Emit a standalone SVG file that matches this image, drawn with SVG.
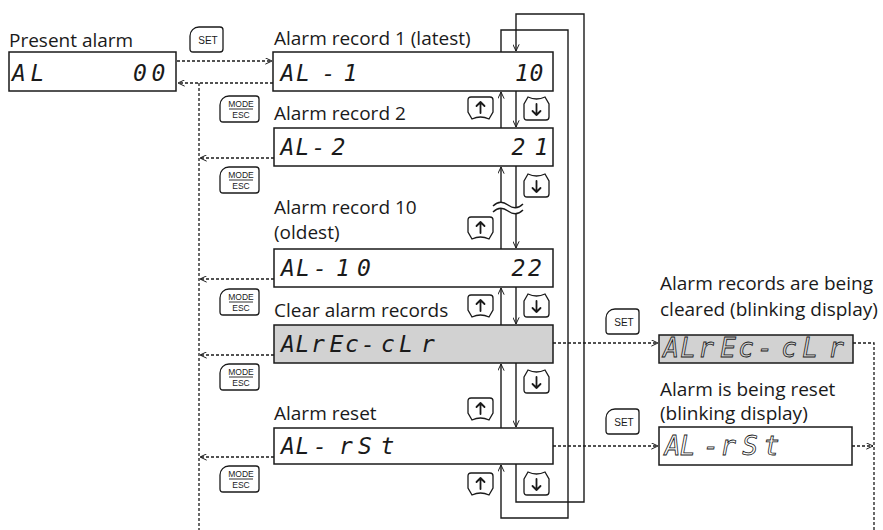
<svg xmlns="http://www.w3.org/2000/svg" xmlns:xlink="http://www.w3.org/1999/xlink" width="883" height="530" viewBox="0 0 883 530">
<style>
.lbl{font-family:"Open Sans","Noto Sans",sans-serif;font-size:19px;fill:#1a1a1a}
.box{fill:#fff;stroke:#1a1a1a;stroke-width:1.5}
.gbox{fill:#d2d2d2;stroke:#1a1a1a;stroke-width:1.5}
.seg{font-family:"DejaVu Sans Mono",monospace;font-style:italic;font-size:23px;fill:#1a1a1a;text-anchor:middle}
.bseg{font-family:"DejaVu Sans Mono",monospace;font-style:italic;font-size:26px;fill:none;stroke:#1a1a1a;stroke-width:0.8;text-anchor:middle}
.solid{fill:none;stroke:#1a1a1a;stroke-width:1.4}
.dash{fill:none;stroke:#1a1a1a;stroke-width:1.3;stroke-dasharray:3 2}
.key{fill:#fff;stroke:#1a1a1a;stroke-width:1.3}
.kt{font-family:"Liberation Sans",Arial,sans-serif;fill:#1a1a1a;text-anchor:middle}
.arr{fill:none;stroke:#1a1a1a;stroke-width:1.8;stroke-linecap:round;stroke-linejoin:round}
</style>
<defs>
<marker id="ah" viewBox="0 0 10 10" refX="9.5" refY="5" markerWidth="7" markerHeight="7" markerUnits="userSpaceOnUse" orient="auto">
<path d="M0,0.5 L9.5,5 L0,9.5" fill="none" stroke="#1a1a1a" stroke-width="1.4"/>
</marker>
<g id="setkey">
<path class="key" d="M0,9 C0,4 4,0 9,0 H30 Q33,0 33,3 V22 Q33,25 30,25 H3 Q0,25 0,22 Z"/>
<text class="kt" x="18" y="17" font-size="10">SET</text>
</g>
<g id="modekey">
<path class="key" d="M0,9 C0,4 4,0 9,0 H36 Q39,0 39,3 V23 Q39,26 36,26 H3 Q0,26 0,23 Z"/>
<text class="kt" x="21" y="11" font-size="8.5">MODE</text>
<line x1="9" y1="13" x2="33" y2="13" stroke="#1a1a1a" stroke-width="0.9"/>
<text class="kt" x="21" y="22" font-size="8.5">ESC</text>
</g>
<g id="upkey">
<path class="key" d="M3,0 H22 Q25,0 25,3 V15 L21,22 Q12.5,18 4,22 L0,15 V3 Q0,0 3,0 Z"/>
<path class="arr" d="M12.5,16 V5 M8.5,9 L12.5,5 L16.5,9"/>
</g>
<g id="downkey">
<path class="key" d="M0,7 L4,0 Q12.5,4 21,0 L25,7 V20 Q25,23 22,23 H3 Q0,23 0,20 Z"/>
<path class="arr" d="M12.5,7 V18 M8.5,14 L12.5,18 L16.5,14"/>
</g>
</defs>
<rect width="883" height="530" fill="#fff"/>

<g id="connectors">
<path class="dash" d="M177,61 H272" marker-end="url(#ah)"/>
<path class="dash" d="M273,83 H178" marker-end="url(#ah)"/>
<path class="dash" d="M199,83 V530"/>
<path class="dash" d="M274,158 H200" marker-end="url(#ah)"/>
<path class="dash" d="M274,279 H200" marker-end="url(#ah)"/>
<path class="dash" d="M274,355 H200" marker-end="url(#ah)"/>
<path class="dash" d="M274,457 H200" marker-end="url(#ah)"/>
<path class="dash" d="M553,343 H658" marker-end="url(#ah)"/>
<path class="dash" d="M553,446 H658" marker-end="url(#ah)"/>
<path class="dash" d="M853,343 H874 V530"/>
<path class="dash" d="M852,446 H873" marker-end="url(#ah)"/>

<path class="solid" d="M501,128 V92" marker-end="url(#ah)"/>
<path class="solid" d="M516,91 V127" marker-end="url(#ah)"/>
<path class="solid" d="M501,249 V167" marker-end="url(#ah)"/>
<path class="solid" d="M516,166 V248" marker-end="url(#ah)"/>
<path class="solid" d="M501,325 V288" marker-end="url(#ah)"/>
<path class="solid" d="M516,287 V324" marker-end="url(#ah)"/>
<path class="solid" d="M501,428 V364" marker-end="url(#ah)"/>
<path class="solid" d="M516,363 V427" marker-end="url(#ah)"/>
<path class="solid" d="M501,52 V30 H568 V518 H501 V465" marker-end="url(#ah)"/>
<path class="solid" d="M516,464 V502 H584 V14 H516 V51" marker-end="url(#ah)"/>
<path d="M493,206 Q500,199 508,205 Q516,211 523,204 L523,210 Q516,217 508,211 Q500,205 493,212 Z" fill="#fff"/>
<path class="solid" d="M493,206 Q500,199 508,205 Q516,211 523,204 M493,212 Q500,205 508,211 Q516,217 523,210"/>
</g>

<g id="present">
<text class="lbl" x="9" y="47">Present alarm</text>
<rect class="box" x="9" y="52" width="167" height="39"/>
<text class="seg" x="19 37.5 140 158.5" y="81">AL00</text>
</g>
<g id="rec1">
<text class="lbl" x="274" y="45">Alarm record 1 (latest)</text>
<rect class="box" x="273" y="52" width="280" height="39"/>
<text class="seg" x="287.5 303 328.5 350.5 522 536.5" y="81">AL-110</text>
</g>
<g id="rec2">
<text class="lbl" x="274" y="120">Alarm record 2</text>
<rect class="box" x="274" y="128" width="279" height="38"/>
<text class="seg" x="287.5 302.5 318.5 338.5 518.5 541.5" y="155">AL-221</text>
</g>
<g id="rec10">
<text class="lbl" x="274" y="214">Alarm record 10</text>
<text class="lbl" x="274" y="239">(oldest)</text>
<rect class="box" x="274" y="249" width="279" height="38"/>
<text class="seg" x="288 303 320 343 364 518.5 535" y="276">AL-1022</text>
</g>
<g id="clear">
<text class="lbl" x="274" y="317">Clear alarm records</text>
<rect class="gbox" x="274" y="325" width="279" height="38"/>
<text class="seg" x="288 302.5 318 336.5 352 368 388 406 428" y="352">ALrEc-cLr</text>
</g>
<g id="reset">
<text class="lbl" x="274" y="420">Alarm reset</text>
<rect class="box" x="274" y="428" width="279" height="36"/>
<text class="seg" x="288 302.5 320 346 365 387.5" y="454">AL-rSt</text>
</g>
<g id="clearing">
<text class="lbl" x="660" y="290">Alarm records are being</text>
<text class="lbl" x="660" y="316">cleared (blinking display)</text>
<rect class="gbox" x="659" y="335" width="194" height="28"/>
<text class="bseg" x="671 688 706 728 746 765 789 810 836" y="357">ALrEc-cLr</text>
</g>
<g id="resetting">
<text class="lbl" x="660" y="396">Alarm is being reset</text>
<text class="lbl" x="660" y="420">(blinking display)</text>
<rect class="box" x="659" y="427" width="193" height="38"/>
<text class="bseg" x="672.5 687.5 711 728 750 771.5" y="455">AL-rSt</text>
</g>

<g id="keys">
<use xlink:href="#setkey" x="190" y="27"/>
<use xlink:href="#setkey" x="606" y="309"/>
<use xlink:href="#setkey" x="606" y="409"/>
<use xlink:href="#modekey" x="220" y="96"/>
<use xlink:href="#modekey" x="220" y="167"/>
<use xlink:href="#modekey" x="220" y="289"/>
<use xlink:href="#modekey" x="220" y="364"/>
<use xlink:href="#modekey" x="220" y="466"/>
<use xlink:href="#upkey" x="468" y="97"/>
<use xlink:href="#upkey" x="468" y="217"/>
<use xlink:href="#upkey" x="468" y="295"/>
<use xlink:href="#upkey" x="468" y="398"/>
<use xlink:href="#upkey" x="468" y="473"/>
<use xlink:href="#downkey" x="524" y="97"/>
<use xlink:href="#downkey" x="524" y="174"/>
<use xlink:href="#downkey" x="524" y="294"/>
<use xlink:href="#downkey" x="524" y="370"/>
<use xlink:href="#downkey" x="524" y="472"/>
</g>
</svg>
